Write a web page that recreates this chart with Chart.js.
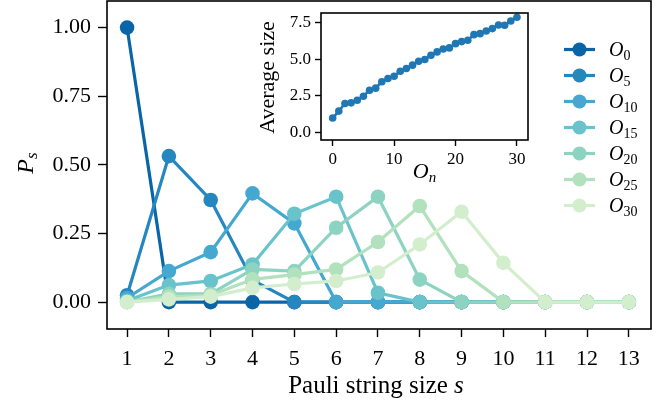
<!DOCTYPE html>
<html>
<head>
<meta charset="utf-8">
<script src="https://cdn.jsdelivr.net/npm/chart.js@4.4.1/dist/chart.umd.min.js"></script>
<style>
  html, body { margin: 0; padding: 0; background: #fff; }
  #wrap { position: relative; width: 667px; height: 407px; }
  #mainBox { position: absolute; left: 0; top: 0; width: 667px; height: 407px; }
  #insetBox { position: absolute; left: 240px; top: 0; width: 300px; height: 190px; }
</style>
</head>
<body>
<div id="wrap">
  <div id="mainBox"><canvas id="main"></canvas></div>
  <div id="insetBox"><canvas id="inset"></canvas></div>
</div>
<script>
// Pauli string sizes (x axis of the main panel)
const sizes = [1, 2, 3, 4, 5, 6, 7, 8, 9, 10, 11, 12, 13];

// Operator indices shown in the legend (subscripts of O)
const seriesNames = ['0', '5', '10', '15', '20', '25', '30'];

// Size distribution P_s for each operator
const P_O0  = [1.000, 0.000, 0.000, 0.000, 0.000, 0.000, 0.000, 0.000, 0.000, 0.000, 0.000, 0.000, 0.000];
const P_O5  = [0.025, 0.532, 0.372, 0.080, 0.000, 0.000, 0.000, 0.000, 0.000, 0.000, 0.000, 0.000, 0.000];
const P_O10 = [0.015, 0.113, 0.182, 0.396, 0.287, 0.000, 0.000, 0.000, 0.000, 0.000, 0.000, 0.000, 0.000];
const P_O15 = [0.005, 0.062, 0.077, 0.137, 0.322, 0.384, 0.034, 0.000, 0.000, 0.000, 0.000, 0.000, 0.000];
const P_O20 = [0.000, 0.030, 0.030, 0.119, 0.113, 0.271, 0.384, 0.082, 0.000, 0.000, 0.000, 0.000, 0.000];
const P_O25 = [0.000, 0.020, 0.025, 0.083, 0.100, 0.119, 0.219, 0.350, 0.113, 0.000, 0.000, 0.000, 0.000];
const P_O30 = [0.000, 0.010, 0.020, 0.052, 0.066, 0.077, 0.108, 0.210, 0.329, 0.143, 0.000, 0.000, 0.000];
const seriesValues = [P_O0, P_O5, P_O10, P_O15, P_O20, P_O25, P_O30];

const seriesColors = ['#0a64a8', '#2586c0', '#45a8d1', '#68c3cb', '#8dd3c1', '#b2e1bd', '#d3eecd'];

const yTicks = [0, 0.25, 0.5, 0.75, 1.0];

// Inset: average Pauli string size of O_n
const insetN = [0, 1, 2, 3, 4, 5, 6, 7, 8, 9, 10, 11, 12, 13, 14, 15, 16, 17, 18, 19, 20, 21, 22, 23, 24, 25, 26, 27, 28, 29, 30];
const insetAvg = [1.00, 1.47, 1.99, 2.03, 2.21, 2.48, 2.89, 3.03, 3.46, 3.68, 3.84, 4.18, 4.36, 4.59, 4.86, 4.97,
                  5.26, 5.49, 5.69, 5.76, 6.05, 6.19, 6.28, 6.66, 6.73, 6.91, 7.07, 7.32, 7.30, 7.59, 7.84];
const insetXTicks = [0, 10, 20, 30];
const insetYTicks = [0, 2.5, 5.0, 7.5];

const SERIF = '"Liberation Serif", "Times New Roman", serif';

// draw a sequence of text runs (different fonts / vertical offsets) on one baseline
function measureRuns(ctx, runs) {
  let w = 0;
  for (const r of runs) { ctx.font = r.font; w += ctx.measureText(r.text).width; }
  return w;
}
function drawRuns(ctx, runs, x, y) {
  let cx = x;
  for (const r of runs) {
    ctx.font = r.font;
    ctx.fillText(r.text, cx, y + (r.dy || 0));
    cx += ctx.measureText(r.text).width;
  }
}

const framePlugin = {
  id: 'frame',
  afterDraw(chart, args, opts) {
    const { ctx, chartArea: a } = chart;
    ctx.save();
    ctx.strokeStyle = '#000';
    ctx.lineWidth = opts.width || 1.6;
    ctx.strokeRect(a.left, a.top, a.right - a.left, a.bottom - a.top);
    ctx.restore();
  }
};

const mainDecor = {
  id: 'mainDecor',
  afterDraw(chart) {
    const { ctx, chartArea: a } = chart;
    ctx.save();
    ctx.fillStyle = '#000';
    ctx.textBaseline = 'alphabetic';
    ctx.textAlign = 'left';

    // x-axis title
    const xRuns = [
      { text: 'Pauli string size ', font: '25px ' + SERIF },
      { text: 's', font: 'italic 25px ' + SERIF }
    ];
    const xw = measureRuns(ctx, xRuns);
    drawRuns(ctx, xRuns, (a.left + a.right) / 2 - xw / 2 - 3, 393);

    // y-axis title P_s
    const yRuns = [
      { text: 'P', font: 'italic 24px ' + SERIF },
      { text: 's', font: 'italic 17px ' + SERIF, dy: 4 }
    ];
    const yw = measureRuns(ctx, yRuns);
    ctx.save();
    ctx.translate(33, (a.top + a.bottom) / 2 - 2);
    ctx.rotate(-Math.PI / 2);
    drawRuns(ctx, yRuns, -yw / 2, 0);
    ctx.restore();

    // legend
    const x0 = a.right - 87, x1 = a.right - 56, xm = (x0 + x1) / 2, xt = a.right - 42;
    chart.data.datasets.forEach((ds, i) => {
      const y = a.top + 48.5 + i * 26;
      ctx.strokeStyle = ds.borderColor;
      ctx.lineWidth = 3.2;
      ctx.beginPath(); ctx.moveTo(x0, y); ctx.lineTo(x1, y); ctx.stroke();
      ctx.fillStyle = ds.borderColor;
      ctx.beginPath(); ctx.arc(xm, y, 7, 0, Math.PI * 2); ctx.fill();
      ctx.fillStyle = '#000';
      drawRuns(ctx, [
        { text: 'O', font: 'italic 20px ' + SERIF },
        { text: ds.label, font: '14px ' + SERIF, dy: 4 }
      ], xt, y + 6);
    });
    ctx.restore();
  }
};

const insetDecor = {
  id: 'insetDecor',
  afterDraw(chart) {
    const { ctx, chartArea: a } = chart;
    ctx.save();
    ctx.fillStyle = '#000';
    ctx.textBaseline = 'alphabetic';
    ctx.textAlign = 'left';
    const xRuns = [
      { text: 'O', font: 'italic 22px ' + SERIF },
      { text: 'n', font: 'italic 15px ' + SERIF, dy: 4 }
    ];
    const xw = measureRuns(ctx, xRuns);
    drawRuns(ctx, xRuns, (a.left + a.right) / 2 - xw / 2, 178);

    ctx.translate(28, (a.top + a.bottom) / 2 + 1);
    ctx.rotate(-Math.PI / 2);
    ctx.font = '22px ' + SERIF;
    ctx.textAlign = 'center';
    ctx.textBaseline = 'middle';
    ctx.fillText('Average size', 0, 0);
    ctx.restore();
  }
};

function tickAxis(opts) {
  return {
    type: 'linear',
    min: opts.min,
    max: opts.max,
    afterBuildTicks(scale) { scale.ticks = opts.ticks.map(v => ({ value: v })); },
    afterFit(scale) {
      if (opts.width) scale.width = opts.width;
      if (opts.height) scale.height = opts.height;
      scale.paddingTop = 0; scale.paddingBottom = 0;
      scale.paddingLeft = 0; scale.paddingRight = 0;
    },
    border: { display: false },
    grid: {
      display: true, drawOnChartArea: false, drawTicks: true,
      tickLength: opts.tickLength, tickWidth: 1.4, tickColor: '#000'
    },
    ticks: {
      autoSkip: false, maxRotation: 0, minRotation: 0,
      color: '#000', padding: opts.padding,
      font: { family: SERIF, size: opts.fontSize },
      callback: opts.format
    }
  };
}

new Chart(document.getElementById('main'), {
  type: 'line',
  data: {
    datasets: seriesValues.map((vals, i) => ({
      label: seriesNames[i],
      data: sizes.map((s, k) => ({ x: s, y: vals[k] })),
      borderColor: seriesColors[i],
      backgroundColor: seriesColors[i],
      pointBackgroundColor: seriesColors[i],
      pointBorderWidth: 0,
      pointRadius: 7.3,
      borderWidth: 3.2,
      tension: 0,
      fill: false,
      order: seriesValues.length - 1 - i
    }))
  },
  options: {
    responsive: true,
    maintainAspectRatio: false,
    animation: false,
    devicePixelRatio: 1,
    layout: { autoPadding: false, padding: { top: 1, right: 16, left: 0, bottom: 0 } },
    plugins: { legend: { display: false }, tooltip: { enabled: false }, frame: { width: 1.6 } },
    scales: {
      x: tickAxis({ min: 0.52, max: 13.53, ticks: sizes, height: 78, tickLength: 8, padding: 9, fontSize: 22,
                    format: v => String(v) }),
      y: tickAxis({ min: -0.098, max: 1.097, ticks: yTicks, width: 107, tickLength: 9, padding: 7, fontSize: 22,
                    format: v => v.toFixed(2) })
    }
  },
  plugins: [framePlugin, mainDecor]
});

new Chart(document.getElementById('inset'), {
  type: 'line',
  data: {
    datasets: [{
      label: 'Average size',
      data: insetN.map((n, k) => ({ x: n, y: insetAvg[k] })),
      borderColor: '#1f77b4',
      backgroundColor: '#1f77b4',
      pointBackgroundColor: '#1f77b4',
      pointBorderWidth: 0,
      pointRadius: 3.8,
      borderWidth: 2.5,
      tension: 0,
      fill: false
    }]
  },
  options: {
    responsive: true,
    maintainAspectRatio: false,
    animation: false,
    devicePixelRatio: 1,
    layout: { autoPadding: false, padding: { top: 13, right: 12, left: 0, bottom: 0 } },
    plugins: { legend: { display: false }, tooltip: { enabled: false }, frame: { width: 1.6 } },
    scales: {
      x: tickAxis({ min: -1.9, max: 31.8, ticks: insetXTicks, height: 50, tickLength: 6, padding: 3, fontSize: 17,
                    format: v => String(v) }),
      y: tickAxis({ min: -0.49, max: 8.13, ticks: insetYTicks, width: 81, tickLength: 6, padding: 4, fontSize: 17,
                    format: v => v.toFixed(1) })
    }
  },
  plugins: [framePlugin, insetDecor]
});
</script>
</body>
</html>
